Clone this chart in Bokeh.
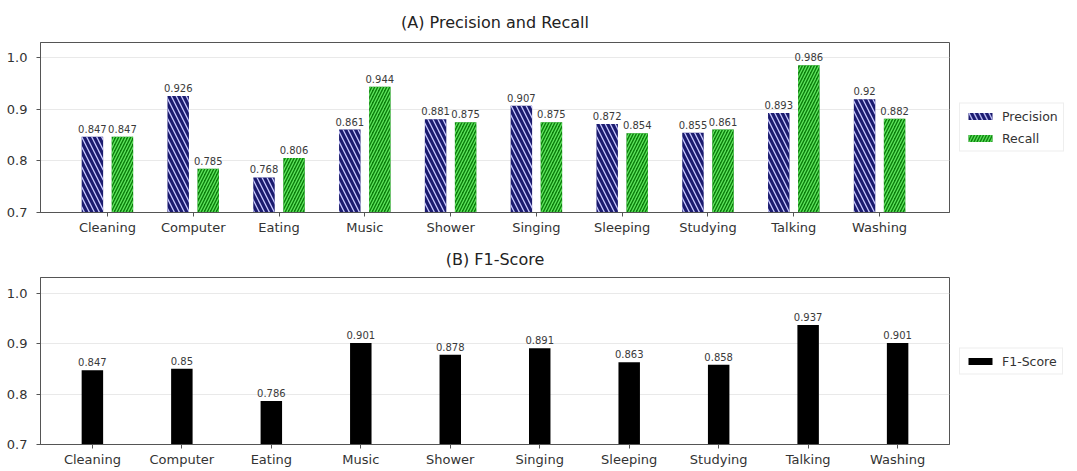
from bokeh.plotting import figure
from bokeh.models import (ColumnDataSource, Range1d, FixedTicker, PrintfTickFormatter,
                          Legend, LegendItem, Title)
from bokeh.transform import dodge
from bokeh.layouts import column
from bokeh.embed import file_html
from bokeh.resources import INLINE

categories = ["Cleaning", "Computer", "Eating", "Music", "Shower",
              "Singing", "Sleeping", "Studying", "Talking", "Washing"]
precision = [0.847, 0.926, 0.768, 0.861, 0.881, 0.907, 0.872, 0.855, 0.893, 0.92]
recall = [0.847, 0.785, 0.806, 0.944, 0.875, 0.875, 0.854, 0.861, 0.986, 0.882]
f1_score = [0.847, 0.85, 0.786, 0.901, 0.878, 0.891, 0.863, 0.858, 0.937, 0.901]
y_ticks = [0.7, 0.8, 0.9, 1.0]

FONT = "DejaVu Sans"
idx = list(range(len(categories)))

src = ColumnDataSource(dict(
    x=idx,
    precision=precision,
    recall=recall,
    f1=f1_score,
    p_lbl=[str(v) for v in precision],
    r_lbl=[str(v) for v in recall],
    f_lbl=[str(v) for v in f1_score],
))

FW = 909
LEFT = 40
RIGHT = 120


def style(p):
    p.outline_line_color = "#555555"
    p.outline_line_width = 1
    p.xgrid.grid_line_color = None
    p.ygrid.grid_line_color = "#e9e9e9"
    p.ygrid.grid_line_width = 1
    p.yaxis.ticker = FixedTicker(ticks=y_ticks)
    p.yaxis.formatter = PrintfTickFormatter(format="%.1f")
    p.xaxis.ticker = FixedTicker(ticks=idx)
    p.xaxis.major_label_overrides = {i: c for i, c in enumerate(categories)}
    for ax in (p.xaxis[0], p.yaxis[0]):
        ax.axis_line_color = "#555555"
        ax.major_tick_line_color = "#555555"
        ax.major_tick_out = 4
        ax.major_tick_in = 0
        ax.minor_tick_line_color = None
        ax.major_label_text_font = FONT
        ax.major_label_text_font_size = "13px"
        ax.major_label_text_color = "#333333"
        ax.major_label_standoff = 3
    p.yaxis[0].major_label_standoff = 9
    p.background_fill_color = "white"
    p.border_fill_color = "white"


def make_legend(items):
    return Legend(items=items, location="center_left", orientation="vertical",
                  glyph_width=30, glyph_height=9, label_height=14, spacing=7,
                  padding=5, margin=10, label_standoff=7,
                  label_text_font=FONT, label_text_font_size="12.5px",
                  label_text_color="#333333",
                  border_line_color="#dddddd", background_fill_color="white")


# ---------- (A) Precision and Recall ----------
p1 = figure(frame_width=FW, frame_height=170, output_backend="svg", toolbar_location=None,
            x_range=Range1d(-0.78, 9.815), y_range=Range1d(0.7, 1.03),
            min_border_left=LEFT, min_border_right=RIGHT, min_border_top=42,
            min_border_bottom=25)
p1.add_layout(Title(text="(A) Precision and Recall", align="center",
                    text_font=FONT, text_font_size="16px", text_font_style="normal",
                    text_color="#222222", standoff=21), "above")
style(p1)

rp = p1.vbar(x=dodge("x", -0.175, range=p1.x_range), top="precision", bottom=0.0,
             width=0.25, source=src, fill_color="#1b1b6f", line_color=None,
             hatch_pattern="left_diagonal_line", hatch_color="#c8c8ff",
             hatch_scale=10, hatch_weight=1.3)
rr = p1.vbar(x=dodge("x", 0.175, range=p1.x_range), top="recall", bottom=0.0,
             width=0.25, source=src, fill_color="#0b7d0b", line_color=None,
             hatch_pattern="right_diagonal_line", hatch_color="#5ee65e",
             hatch_scale=6, hatch_weight=1.3)
p1.text(x=dodge("x", -0.175, range=p1.x_range), y="precision", text="p_lbl", source=src,
        text_align="center", text_baseline="bottom", y_offset=-4,
        text_font_size="10px", text_color="#3a3a3a", text_font={"value": FONT})
p1.text(x=dodge("x", 0.175, range=p1.x_range), y="recall", text="r_lbl", source=src,
        text_align="center", text_baseline="bottom", y_offset=-4,
        text_font_size="10px", text_color="#3a3a3a", text_font={"value": FONT})

p1.add_layout(make_legend([LegendItem(label="Precision", renderers=[rp]),
                           LegendItem(label="Recall", renderers=[rr])]), "right")

# ---------- (B) F1-Score ----------
p2 = figure(frame_width=FW, frame_height=167, output_backend="svg", toolbar_location=None,
            x_range=Range1d(-0.58, 9.58), y_range=Range1d(0.7, 1.031),
            min_border_left=LEFT, min_border_right=RIGHT, min_border_top=40,
            min_border_bottom=22)
p2.add_layout(Title(text="(B) F1-Score", align="center",
                    text_font=FONT, text_font_size="16px", text_font_style="normal",
                    text_color="#222222", standoff=17), "above")
style(p2)

rf = p2.vbar(x="x", top="f1", bottom=0.0, width=0.24, source=src,
             fill_color="black", line_color=None)
p2.text(x="x", y="f1", text="f_lbl", source=src,
        text_align="center", text_baseline="bottom", y_offset=-4,
        text_font_size="10px", text_color="#3a3a3a", text_font={"value": FONT})

p2.add_layout(make_legend([LegendItem(label="F1-Score", renderers=[rf])]), "right")

layout = column(p1, p2, spacing=0)
open("out.html", "w").write(file_html(layout, INLINE))
